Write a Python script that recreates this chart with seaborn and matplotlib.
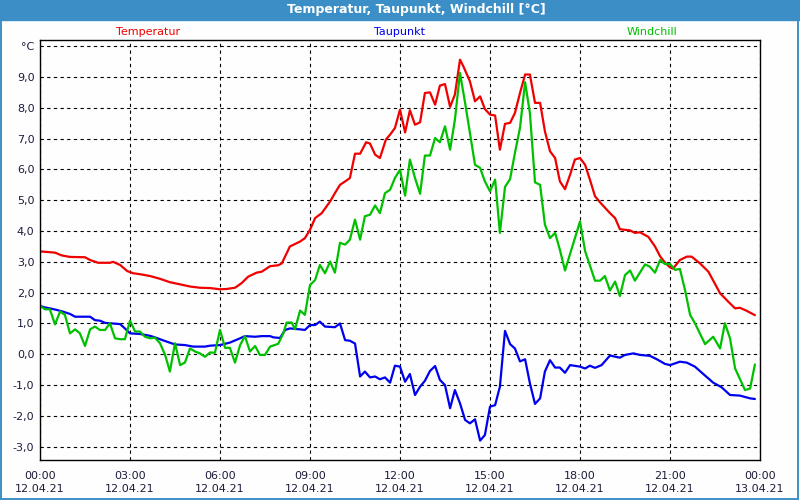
import numpy as np
import matplotlib
matplotlib.use("Agg")
import matplotlib.pyplot as plt
from matplotlib.patches import Rectangle
import seaborn as sns

# -----------------------------
# Daten, Zeit in Stunden ab 12.04.21 00:00
# -----------------------------
temp_h = [0, 0.5, 0.72, 1.0, 1.5, 1.67, 1.94, 2.33, 2.44, 2.67,
          2.91, 3.11, 3.33, 3.67, 4.0, 4.33, 4.67, 5.0, 5.33, 5.67,
          6.0, 6.22, 6.5, 6.72, 6.94, 7.22, 7.39, 7.67, 7.94, 8.06,
          8.33, 8.67, 8.83, 9.0, 9.17, 9.39, 9.67, 9.83, 10.0, 10.17,
          10.33, 10.5, 10.67, 10.87, 11.0, 11.17, 11.33, 11.53, 11.67, 11.83,
          12.0, 12.17, 12.33, 12.5, 12.67, 12.83, 13.0, 13.17, 13.33, 13.5,
          13.67, 13.83, 14.0, 14.11, 14.33, 14.5, 14.67, 14.83, 15.0, 15.17,
          15.33, 15.5, 15.67, 15.83, 16.0, 16.17, 16.33, 16.5, 16.67, 16.83,
          17.0, 17.17, 17.33, 17.5, 17.67, 17.83, 18.0, 18.17, 18.33, 18.5,
          18.67, 19.0, 19.17, 19.33, 19.67, 19.83, 20.0, 20.28, 20.5, 20.67,
          20.83, 21.0, 21.1, 21.33, 21.56, 21.72, 22.0, 22.28, 22.67, 22.94,
          23.17, 23.33, 23.56, 23.83]
temp_v = [3.34, 3.30, 3.21, 3.16, 3.15, 3.06, 2.97, 2.97, 3.00, 2.90,
          2.70, 2.63, 2.60, 2.54, 2.45, 2.34, 2.27, 2.20, 2.16, 2.15,
          2.11, 2.12, 2.16, 2.31, 2.52, 2.65, 2.68, 2.86, 2.89, 2.95,
          3.50, 3.66, 3.77, 4.04, 4.42, 4.58, 4.96, 5.23, 5.50, 5.61,
          5.72, 6.51, 6.51, 6.88, 6.84, 6.48, 6.37, 6.97, 7.13, 7.34,
          7.94, 7.20, 7.92, 7.45, 7.53, 8.48, 8.50, 8.10, 8.72, 8.77,
          8.03, 8.43, 9.56, 9.35, 8.86, 8.21, 8.37, 7.96, 7.78, 7.75,
          6.64, 7.48, 7.51, 7.83, 8.48, 9.08, 9.08, 8.16, 8.16, 7.24,
          6.59, 6.37, 5.61, 5.36, 5.83, 6.32, 6.37, 6.15, 5.67, 5.13,
          4.93, 4.58, 4.42, 4.06, 4.02, 3.94, 3.96, 3.81, 3.50, 3.18,
          2.98, 2.82, 2.78, 3.06, 3.17, 3.17, 2.95, 2.68, 1.98, 1.71,
          1.49, 1.51, 1.41, 1.27]

taup_h = [0, 0.17, 0.33, 0.56, 0.78, 1.0, 1.17, 1.67, 1.83, 2.0,
          2.17, 2.67, 2.83, 3.0, 3.33, 3.67, 3.83, 4.17, 4.5, 4.83,
          5.11, 5.5, 5.67, 6.0, 6.33, 6.67, 6.83, 7.17, 7.39, 7.67,
          7.78, 8.0, 8.17, 8.33, 8.67, 8.83, 9.0, 9.17, 9.33, 9.5,
          9.83, 10.0, 10.17, 10.33, 10.5, 10.67, 10.83, 11.0, 11.17, 11.33,
          11.5, 11.67, 11.83, 12.0, 12.17, 12.33, 12.5, 12.67, 12.83, 13.0,
          13.17, 13.33, 13.5, 13.67, 13.83, 14.0, 14.17, 14.33, 14.5, 14.67,
          14.83, 15.0, 15.17, 15.33, 15.5, 15.67, 15.83, 16.0, 16.17, 16.33,
          16.5, 16.67, 16.83, 17.0, 17.17, 17.33, 17.5, 17.67, 18.0, 18.17,
          18.33, 18.5, 18.72, 19.0, 19.33, 19.5, 19.78, 20.0, 20.33, 20.56,
          20.83, 21.0, 21.33, 21.56, 21.83, 22.11, 22.44, 22.72, 23.0, 23.33,
          23.67, 23.83]
taup_v = [1.57, 1.52, 1.49, 1.44, 1.38, 1.31, 1.22, 1.22, 1.11, 1.09,
          1.02, 0.98, 0.84, 0.68, 0.66, 0.60, 0.55, 0.43, 0.32, 0.30,
          0.25, 0.25, 0.28, 0.30, 0.38, 0.52, 0.59, 0.57, 0.59, 0.59,
          0.55, 0.53, 0.79, 0.84, 0.81, 0.79, 0.95, 0.95, 1.06, 0.90,
          0.88, 1.00, 0.46, 0.44, 0.35, -0.72, -0.56, -0.75, -0.72, -0.81,
          -0.75, -0.92, -0.37, -0.40, -0.89, -0.64, -1.32, -1.05, -0.86, -0.54,
          -0.38, -0.83, -1.00, -1.75, -1.16, -1.59, -2.13, -2.24, -2.11, -2.80,
          -2.62, -1.70, -1.65, -1.05, 0.76, 0.33, 0.19, -0.23, -0.16, -0.94,
          -1.61, -1.43, -0.56, -0.19, -0.43, -0.43, -0.60, -0.35, -0.40, -0.46,
          -0.37, -0.44, -0.35, -0.04, -0.11, -0.02, 0.03, -0.02, -0.05, -0.16,
          -0.31, -0.35, -0.24, -0.27, -0.40, -0.64, -0.92, -1.07, -1.32, -1.34,
          -1.43, -1.45]

wind_h = [0, 0.17, 0.33, 0.5, 0.67, 0.83, 1.0, 1.17, 1.33, 1.5,
          1.67, 1.83, 2.0, 2.17, 2.33, 2.5, 2.67, 2.83, 3.0, 3.17,
          3.33, 3.5, 3.67, 3.83, 4.0, 4.17, 4.33, 4.5, 4.67, 4.83,
          5.0, 5.17, 5.33, 5.5, 5.67, 5.83, 6.0, 6.17, 6.33, 6.5,
          6.67, 6.83, 7.0, 7.17, 7.33, 7.5, 7.67, 7.94, 8.11, 8.22,
          8.39, 8.5, 8.67, 8.83, 9.0, 9.17, 9.33, 9.5, 9.67, 9.83,
          10.0, 10.17, 10.33, 10.5, 10.67, 10.83, 11.0, 11.17, 11.33, 11.5,
          11.67, 11.83, 12.0, 12.17, 12.33, 12.5, 12.67, 12.83, 13.0, 13.17,
          13.33, 13.5, 13.67, 13.83, 14.0, 14.17, 14.33, 14.5, 14.67, 14.83,
          15.0, 15.17, 15.33, 15.5, 15.67, 15.83, 16.0, 16.17, 16.33, 16.5,
          16.67, 16.83, 17.0, 17.17, 17.33, 17.5, 18.0, 18.17, 18.5, 18.67,
          18.83, 19.0, 19.17, 19.33, 19.5, 19.67, 19.83, 20.17, 20.33, 20.5,
          20.67, 20.83, 21.0, 21.17, 21.33, 21.5, 21.67, 21.83, 22.17, 22.44,
          22.67, 22.83, 23.0, 23.17, 23.5, 23.67, 23.83]
wind_v = [1.57, 1.46, 1.46, 0.97, 1.39, 1.28, 0.68, 0.81, 0.68, 0.27,
          0.81, 0.90, 0.79, 0.79, 1.01, 0.52, 0.49, 0.49, 1.09, 0.74,
          0.74, 0.57, 0.52, 0.54, 0.36, -0.02, -0.56, 0.36, -0.35, -0.27,
          0.19, 0.09, 0.03, -0.08, 0.06, 0.05, 0.79, 0.21, 0.21, -0.27,
          0.30, 0.59, 0.09, 0.27, -0.02, -0.02, 0.25, 0.34, 0.68, 1.03,
          1.03, 0.81, 1.42, 1.28, 2.25, 2.41, 2.90, 2.63, 3.01, 2.65,
          3.62, 3.56, 3.72, 4.37, 3.72, 4.48, 4.53, 4.83, 4.58, 5.23,
          5.34, 5.72, 5.99, 5.15, 6.32, 5.72, 5.21, 6.45, 6.45, 7.02,
          6.88, 7.40, 6.64, 7.61, 9.13, 8.16, 7.18, 6.15, 6.05, 5.61,
          5.29, 5.67, 3.94, 5.43, 5.69, 6.53, 7.35, 8.83, 7.83, 5.58,
          5.50, 4.21, 3.77, 3.94, 3.39, 2.72, 4.31, 3.35, 2.39, 2.39,
          2.54, 2.07, 2.36, 1.89, 2.57, 2.72, 2.39, 2.92, 2.84, 2.65,
          3.06, 2.93, 2.93, 2.74, 2.77, 2.09, 1.28, 1.01, 0.33, 0.57,
          0.19, 1.01, 0.52, -0.46, -1.16, -1.11, -0.33]

xticks = list(range(0, 25, 3))
xtick_labels = [f"{h % 24:02d}:00\n{'13.04.21' if h == 24 else '12.04.21'}" for h in xticks]
yticks = list(range(-3, 11))
ytick_labels = [("°C" if v == 10 else f"{v},0") for v in yticks]

RED, BLUE, GREEN = "#f00000", "#0000f0", "#00c000"
FRAME = "#3c8fc6"
TXT = "#1c1c3c"

# -----------------------------
# Figur
# -----------------------------
sns.set_style("white")
plt.rcParams["font.family"] = ["DejaVu Sans"]

fig = plt.figure(figsize=(8, 5), dpi=100)
fig.patch.set_facecolor("#fdfefd")
ax = fig.add_axes([0.05, 0.08, 0.90, 0.84])
ax.set_facecolor("#fdfefd")

sns.lineplot(x=temp_h, y=temp_v, color=RED, lw=1.6, estimator=None, ax=ax)
sns.lineplot(x=taup_h, y=taup_v, color=BLUE, lw=1.6, estimator=None, ax=ax)
sns.lineplot(x=wind_h, y=wind_v, color=GREEN, lw=1.6, estimator=None, ax=ax)

ax.set_xlim(0, 24)
ax.set_ylim(-3.43, 10.2)
ax.set_xticks(xticks)
ax.set_xticklabels(xtick_labels, fontsize=8, color=TXT, linespacing=1.4)
ax.set_xticks(range(25), minor=True)
ax.set_yticks(yticks)
ax.set_yticklabels(ytick_labels, fontsize=8, color=TXT)
ax.tick_params(axis="x", which="both", direction="out", length=4, width=0.8, color="black", pad=4)
ax.tick_params(axis="y", length=0, pad=4)
ax.grid(True, which="major", color="black", lw=0.8, linestyle=(0, (3, 3)))
for s in ax.spines.values():
    s.set_color("black")
    s.set_linewidth(1.0)
ax.set_xlabel("")
ax.set_ylabel("")

# Legende als farbige Texte
fig.text(0.185, 0.936, "Temperatur", color=RED, fontsize=8, ha="center", va="center")
fig.text(0.5, 0.936, "Taupunkt", color=BLUE, fontsize=8, ha="center", va="center")
fig.text(0.815, 0.936, "Windchill", color=GREEN, fontsize=8, ha="center", va="center")

# Titelleiste und Rahmen
fig.add_artist(Rectangle((0, 0.96), 1, 0.04, transform=fig.transFigure, color=FRAME, zorder=0))
fig.add_artist(Rectangle((0.001, 0.002), 0.997, 0.996, transform=fig.transFigure,
                         fill=False, edgecolor=FRAME, lw=1.4))
fig.text(0.52, 0.981, "Temperatur, Taupunkt, Windchill [°C]", color="white",
         fontsize=9, fontweight="bold", ha="center", va="center")

fig.savefig("out.png", dpi=100, facecolor=fig.get_facecolor())
